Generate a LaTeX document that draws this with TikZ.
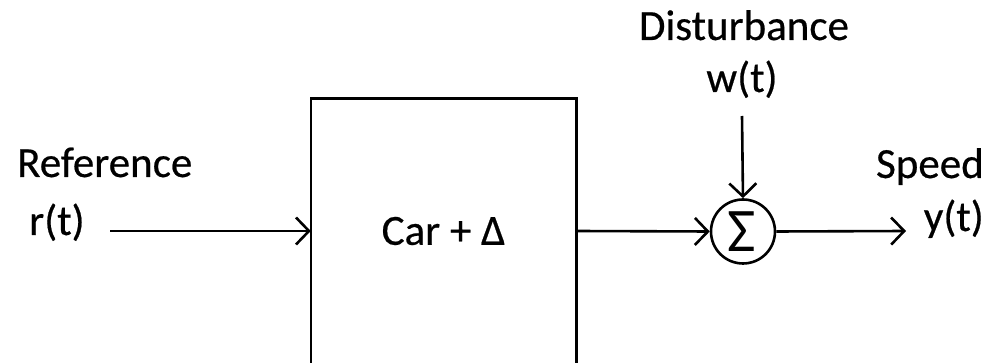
\documentclass[tikz,border=0pt]{standalone}
\usepackage{fontspec}
\setmainfont{Carlito}
\newfontfamily\lblfont{Carlito}[UprightFeatures={FakeBold=0.5}]
\usetikzlibrary{arrows.meta}
\begin{document}
\begin{tikzpicture}[x=1pt,y=-1pt,
  lbl/.style={font=\lblfont\fontsize{43}{50}\selectfont, inner sep=0pt, anchor=base},
  wire/.style={line width=2.6pt},
  arr/.style={wire, -{Straight Barb[length=13pt,width=27pt,line width=2.6pt]}},
  sumnode/.style={circle, draw, line width=2.6pt, minimum size=64pt, inner sep=0pt}
]
\useasboundingbox[fill=white] (0,0) rectangle (989,363);
% plant box (bottom edge outside the picture)
\node[minimum width=265pt, minimum height=264pt, inner sep=0pt] (plant) at (443.5,231) {};
\draw[wire] (plant.south west) -- (plant.north west) -- (plant.north east) -- (plant.south east);
\node[lbl, anchor=center] (plantlbl) at (443.5,231) {Car + Δ};
% sum
\node[sumnode] (sum) at (743,231.5) {};
\node[inner sep=0pt, font=\fontsize{62}{64}\selectfont] (sig) at (742,232) {Σ};
% labels
\node[lbl, anchor=base west] (reflbl) at (17,177) {Reference};
\node[lbl, anchor=base west] (rt) at (29,235) {r(t)};
\node[lbl] (dist) at (744,40) {Disturbance};
\node[lbl] (wt) at (742,92) {w(t)};
\node[lbl, anchor=base east] (speed) at (984,178) {Speed};
\node[lbl, anchor=base east] (yt) at (984,231) {y(t)};
% connectors
\coordinate (rin) at (110,231);
\coordinate (win) at (742,116);
\coordinate (yout) at (906,231);
\draw[arr] (rin) -- (plant.west |- rin);
\draw[arr] (plant.east |- rin) -- (sum.west);
\draw[arr] (win) -- (sum.north);
\draw[arr] (sum.east) -- (yout);
\end{tikzpicture}
\end{document}
